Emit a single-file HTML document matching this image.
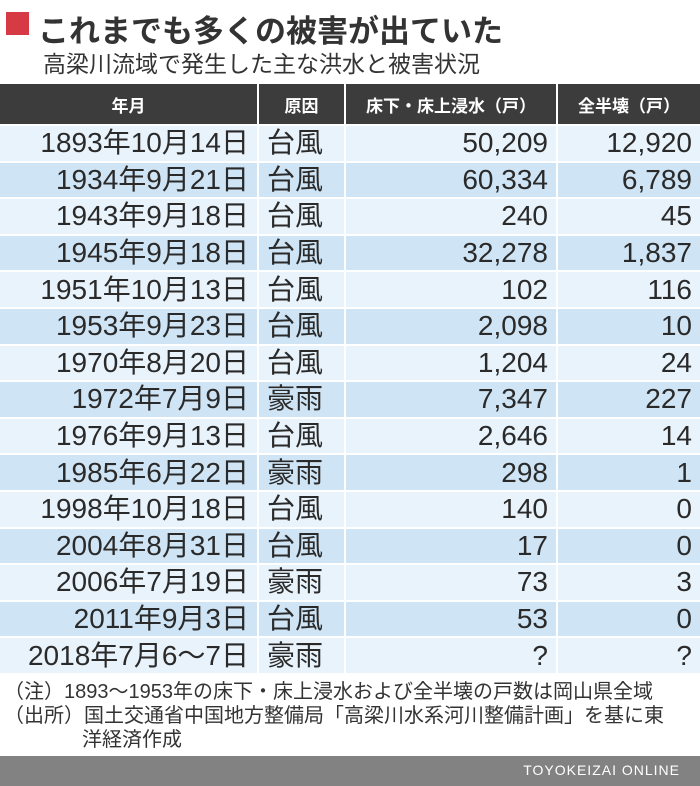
<!DOCTYPE html>
<html><head><meta charset="utf-8"><style>
body{margin:0;width:700px;height:786px;background:#fff;font-family:"Liberation Sans","Noto Sans CJK JP",sans-serif;color:#333;position:relative;overflow:hidden}
.t{position:absolute;white-space:nowrap}
table{position:absolute;left:0;top:84px;width:700px;border-collapse:collapse;table-layout:fixed}
th{background:#3c3c3c;color:#fff;font-size:17px;font-weight:bold;height:40px;border-left:2px solid #fff;padding:0}
th:first-child{border-left:none}
td{height:34.6px;border-left:2px solid #fff;border-top:2px solid #fff;font-size:28px;padding:0 8px;line-height:34px;color:#2a2a2a}
td:first-child{border-left:none;text-align:right}
td.c{text-align:left}
td.n{text-align:right}
tr:nth-child(odd) td{background:#e9f3fb}
tr:nth-child(even) td{background:#cfe4f4}
</style></head><body>
<div class="t" style="left:6px;top:12px;width:23px;height:23px;background:#d63a45"></div>
<div class="t" style="left:38px;top:6px;font-size:31px;font-weight:bold;color:#333">これまでも多くの被害が出ていた</div>
<div class="t" style="left:43px;top:45px;font-size:23px;color:#333">高梁川流域で発生した主な洪水と被害状況</div>
<table>
<colgroup><col style="width:258px"><col style="width:87px"><col style="width:212px"><col style="width:143px"></colgroup>
<thead><tr><th style="text-align:center">年月</th><th>原因</th><th>床下・床上浸水（戸）</th><th>全半壊（戸）</th></tr></thead>
<tbody id="tb"></tbody></table>
<div class="t" style="left:4px;top:680px;font-size:20px;line-height:24px;color:#333">（注）1893～1953年の床下・床上浸水および全半壊の戸数は岡山県全域</div>
<div class="t" style="left:4px;top:704px;font-size:20px;color:#333;line-height:24px">（出所）国土交通省中国地方整備局「高梁川水系河川整備計画」を基に東<br><span style="padding-left:78px">洋経済作成</span></div>
<div class="t" style="left:0;top:756px;width:700px;height:30px;background:#828282"></div>
<div class="t" style="right:20px;top:762px;font-size:14px;color:#fff;letter-spacing:1px">TOYOKEIZAI ONLINE</div>
<script>
const dates=["1893年10月14日","1934年9月21日","1943年9月18日","1945年9月18日","1951年10月13日","1953年9月23日","1970年8月20日","1972年7月9日","1976年9月13日","1985年6月22日","1998年10月18日","2004年8月31日","2006年7月19日","2011年9月3日","2018年7月6～7日"];
const causes=["台風","台風","台風","台風","台風","台風","台風","豪雨","台風","豪雨","台風","台風","豪雨","台風","豪雨"];
const flooded=["50,209","60,334","240","32,278","102","2,098","1,204","7,347","2,646","298","140","17","73","53","?"];
const destroyed=["12,920","6,789","45","1,837","116","10","24","227","14","1","0","0","3","0","?"];
const tb=document.getElementById('tb');
dates.forEach((d,i)=>{
  const tr=document.createElement('tr');
  
  
  [[d,''],[causes[i],'c'],[flooded[i],'n'],[destroyed[i],'n']].forEach(([v,c],j)=>{
    const td=document.createElement('td');
    
    
    if(c)td.className=c;
    td.textContent=v;
    tr.appendChild(td);
  });
  tb.appendChild(tr);
});
</script>
</body></html>
